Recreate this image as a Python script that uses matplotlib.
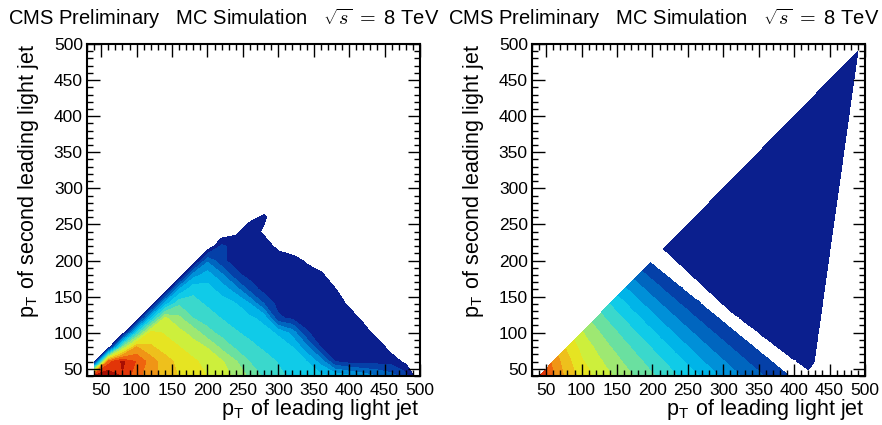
import numpy as np
import matplotlib
matplotlib.use("Agg")
import matplotlib.pyplot as plt
import matplotlib.tri as mtri
from matplotlib.ticker import MultipleLocator

plt.rcParams['font.family'] = ['Liberation Sans', 'DejaVu Sans']
plt.rcParams['mathtext.fontset'] = 'cm'

# bin centres (GeV), same for both axes
pt_bins = [40, 60, 80, 100, 120, 140, 160, 180, 200, 220, 240, 260,
           280, 300, 320, 340, 360, 380, 400, 420, 440, 460, 480, 500]

# simulated events, in units of one contour step; -1 = empty bin
# one row per second-jet bin, starting at 40 GeV
mc_counts = [
    [15.8, 15.95, 14.9, 13.33, 12.38, 11.61, 10.93, 10.45, 9.97, 9.43, 8.79, 7.74, 6.82, 6.21, 5.81, 5.53, 5.24, 4.89, 4.18, 3.57, 3.0, 2.38, 1.43, -1],
    [-1, 13.5, 15.2, 13.9, 12.53, 11.41, 10.71, 10.18, 9.66, 9.13, 8.09, 6.95, 6.42, 5.93, 5.56, 5.0, 3.6, 1.0, 0.6, 0.6, 0.6, 0.6, -0.3, -1],
    [-1, -1, 8.0, 12.08, 11.14, 10.55, 10.03, 9.5, 8.94, 7.73, 6.79, 6.27, 5.82, 5.45, 5.0, 3.3, 0.95, 0.6, 0.6, 0.6, 0.6, -0.5, -1, -1],
    [-1, -1, -1, 6.0, 10.4, 9.87, 9.34, 8.58, 7.36, 6.63, 6.1, 5.71, 5.34, 4.85, 3.6, 1.1, 0.6, 0.6, 0.6, 0.6, -0.5, -1, -1, -1],
    [-1, -1, -1, -1, 5.0, 9.18, 8.21, 7.0, 6.48, 5.96, 5.6, 5.2, 4.7, 1.2, 0.8, 0.6, 0.6, 0.6, 0.6, -0.3, -1, -1, -1, -1],
    [-1] * 5 + [4.5, 6.84, 6.32, 5.85, 5.48, 5.05, 4.0, 2.0, 0.6, 0.6, 0.6, 0.6, 0.6, -0.2] + [-1] * 5,
    [-1] * 6 + [4.0, 5.74, 5.37, 4.6, 3.5, 1.6, 0.6, 0.6, 0.6, 0.6, 0.6, 0.1] + [-1] * 6,
    [-1] * 7 + [3.5, 4.5, 3.2, 1.3, 0.6, 0.6, 0.6, 0.6, 0.6, 0.3] + [-1] * 7,
    [-1] * 8 + [2.8, 1.2, 0.6, 0.6, 0.6, 0.6, 0.6, -0.2] + [-1] * 8,
    [-1] * 9 + [1.2, 0.6, 0.6, 0.5, -0.3] + [-1] * 10,
    [-1] * 10 + [-0.2, 0.6, -0.2] + [-1] * 11,
    [-1] * 11 + [-0.3, 0.2] + [-1] * 11,
] + [[-1] * 24] * 12

# fitted model below the gap, same units
fit_low = [
    [15.3, 12.97, 11.68, 10.65, 9.75, 9.13, 8.44, 7.76, 7.13, 6.5, 5.87, 5.23, 4.48, 3.76, 3.15, 2.53, 1.92, 1.36, 0.81, 0.25, 0, 0, 0, 0],
    [0, 12.68, 11.3, 10.12, 9.36, 8.63, 7.89, 7.21, 6.55, 5.89, 5.21, 4.44, 3.71, 3.07, 2.43, 1.81, 1.23, 0.66, 0.09, 0, 0, 0, 0, 0],
    [0, 0, 10.76, 9.67, 8.85, 8.04, 7.31, 6.6, 5.9, 5.2, 4.39, 3.65, 2.99, 2.32, 1.69, 1.09, 0.5, 0, 0, 0, 0, 0, 0, 0],
    [0] * 3 + [9.11, 8.23, 7.42, 6.66, 5.92, 5.18, 4.35, 3.59, 2.89, 2.2, 1.56, 0.94, 0.33] + [0] * 8,
    [0] * 4 + [7.54, 6.73, 5.94, 5.16, 4.3, 3.52, 2.79, 2.08, 1.42, 0.78, 0.15] + [0] * 9,
    [0] * 5 + [5.96, 5.14, 4.25, 3.44, 2.68, 1.95, 1.28, 0.61] + [0] * 11,
    [0] * 6 + [4.19, 3.36, 2.57, 1.81, 1.11, 0.43] + [0] * 12,
    [0] * 7 + [2.43, 1.67, 0.94, 0.24] + [0] * 13,
    [0] * 8 + [0.75, 0.02] + [0] * 14,
] + [[0] * 24] * 15

# fitted model above the gap: > 0 inside the lowest contour
fit_high = [
    [-1] * 18 + [-0.89, -0.29, -0.72, -1, -1, -1],
    [-1] * 17 + [-0.7, -0.1, 0.41, -0.58, -1, -1, -1],
    [-1] * 16 + [-0.5, 0.1, 0.7, 0.55, -0.44, -1, -1, -1],
    [-1] * 14 + [-0.91, -0.31, 0.3, 0.9, 1, 0.69, -0.3, -1, -1, -1],
    [-1] * 13 + [-0.71, -0.11, 0.5, 1, 1, 1, 0.84, -0.15, -1, -1, -1],
    [-1] * 12 + [-0.65, 0.03, 0.69, 1, 1, 1, 1, 0.98, -0.01, -1, -1, -1],
    [-1] * 11 + [-0.58, 0.1, 0.77, 1, 1, 1, 1, 1, 1, 0.13, -0.86, -1, -1],
    [-1] * 10 + [-0.52, 0.16, 0.83, 1, 1, 1, 1, 1, 1, 1, 0.27, -0.72, -1, -1],
    [-1] * 9 + [-0.46, 0.22, 0.9, 1, 1, 1, 1, 1, 1, 1, 1, 0.42, -0.58, -1, -1],
    [-1] * 9 + [0.28, 0.96, 1, 1, 1, 1, 1, 1, 1, 1, 1, 0.56, -0.44, -1, -1],
    [-1] * 10 + [1] * 10 + [0.7, -0.3, -1, -1],
    [-1] * 11 + [1] * 9 + [0.84, -0.15, -1, -1],
    [-1] * 12 + [1] * 8 + [0.98, -0.01, -1, -1],
    [-1] * 13 + [1] * 8 + [0.14, -0.85, -1],
    [-1] * 14 + [1] * 7 + [0.28, -0.71, -1],
    [-1] * 15 + [1] * 6 + [0.42, -0.57, -1],
    [-1] * 16 + [1] * 5 + [0.56, -0.43, -1],
    [-1] * 17 + [1] * 4 + [0.7, -0.29, -1],
    [-1] * 18 + [1] * 3 + [0.85, -0.14, -1],
    [-1] * 19 + [1] * 2 + [0.99, -0.01, -1],
    [-1] * 20 + [1, 1, 0.14, -0.85],
    [-1] * 21 + [1, 0.28, -0.71],
    [-1] * 22 + [0.42, -0.57],
    [-1] * 23 + [-0.42],
]

levels = list(range(17))
band_colors = ['#0b1f8e', '#0540a8', '#0066bf', '#0090d8', '#00b4e8', '#10cbe8',
               '#3ad8cc', '#6ae0a0', '#9ee872', '#cdef3c', '#e6e422', '#eec01c',
               '#f09516', '#ef640e', '#e23508', '#a90e02']

title = r"CMS Preliminary   MC Simulation   $\sqrt{s}\;=$ 8 TeV"
xlabel = r"p$_{\mathregular{T}}$ of leading light jet"
ylabel = r"p$_{\mathregular{T}}$ of second leading light jet"

W, H = 882, 425
fig = plt.figure(figsize=(W / 100, H / 100), dpi=100)
ax1 = fig.add_axes([87 / W, 49 / H, 333 / W, 332 / H])
ax2 = fig.add_axes([532 / W, 49 / H, 333 / W, 332 / H])

# left: MC histogram
ax1.contourf(pt_bins, pt_bins, np.array(mc_counts), levels=levels, colors=band_colors)

# right: fit, drawn on a triangulated grid cut along pT2 = pT1
gx, gy = np.meshgrid(pt_bins, pt_bins)
px, py = gx.ravel(), gy.ravel()
n = len(pt_bins)
tris = []
for i in range(n - 1):
    for j in range(n - 1):
        a, b = i * n + j, i * n + j + 1
        c, d = (i + 1) * n + j, (i + 1) * n + j + 1
        tris.append([a, b, d])
        tris.append([a, d, c])
tris = np.array(tris)
mask = np.any(py[tris] > px[tris], axis=1)
tri = mtri.Triangulation(px, py, tris, mask=mask)
ax2.tricontourf(tri, np.array(fit_low).ravel(), levels=levels[1:], colors=band_colors[1:])
ax2.tricontourf(tri, np.array(fit_high).ravel(), levels=[0, 2], colors=[band_colors[0]])

for ax, x0 in ((ax1, 0), (ax2, 445)):
    ax.set_xlim(30, 500)
    ax.set_ylim(40, 500)
    ax.xaxis.set_major_locator(MultipleLocator(50))
    ax.yaxis.set_major_locator(MultipleLocator(50))
    ax.xaxis.set_minor_locator(MultipleLocator(10))
    ax.yaxis.set_minor_locator(MultipleLocator(10))
    ax.tick_params(which='both', direction='in', top=True, right=True,
                   width=1, labelsize=12.5, colors='black')
    ax.tick_params(which='major', length=9, pad=5)
    ax.tick_params(which='minor', length=4.5)
    ax.tick_params(axis='y', pad=3)
    for sp in ax.spines.values():
        sp.set_linewidth(1.5)

    fig.text((8 + x0 - (5 if x0 else 0)) / W, 1 - 25 / H, title, fontsize=14.5,
             ha='left', va='baseline')
    right_edge = ax.get_position().x1
    fig.text(right_edge, 1 - 415 / H, xlabel, fontsize=15.5, ha='right', va='baseline')
    fig.text((41 + x0) / W, 1 - 44 / H, ylabel, fontsize=15.5, rotation=90,
             ha='right', va='top')

fig.savefig("out.png", dpi=100)
